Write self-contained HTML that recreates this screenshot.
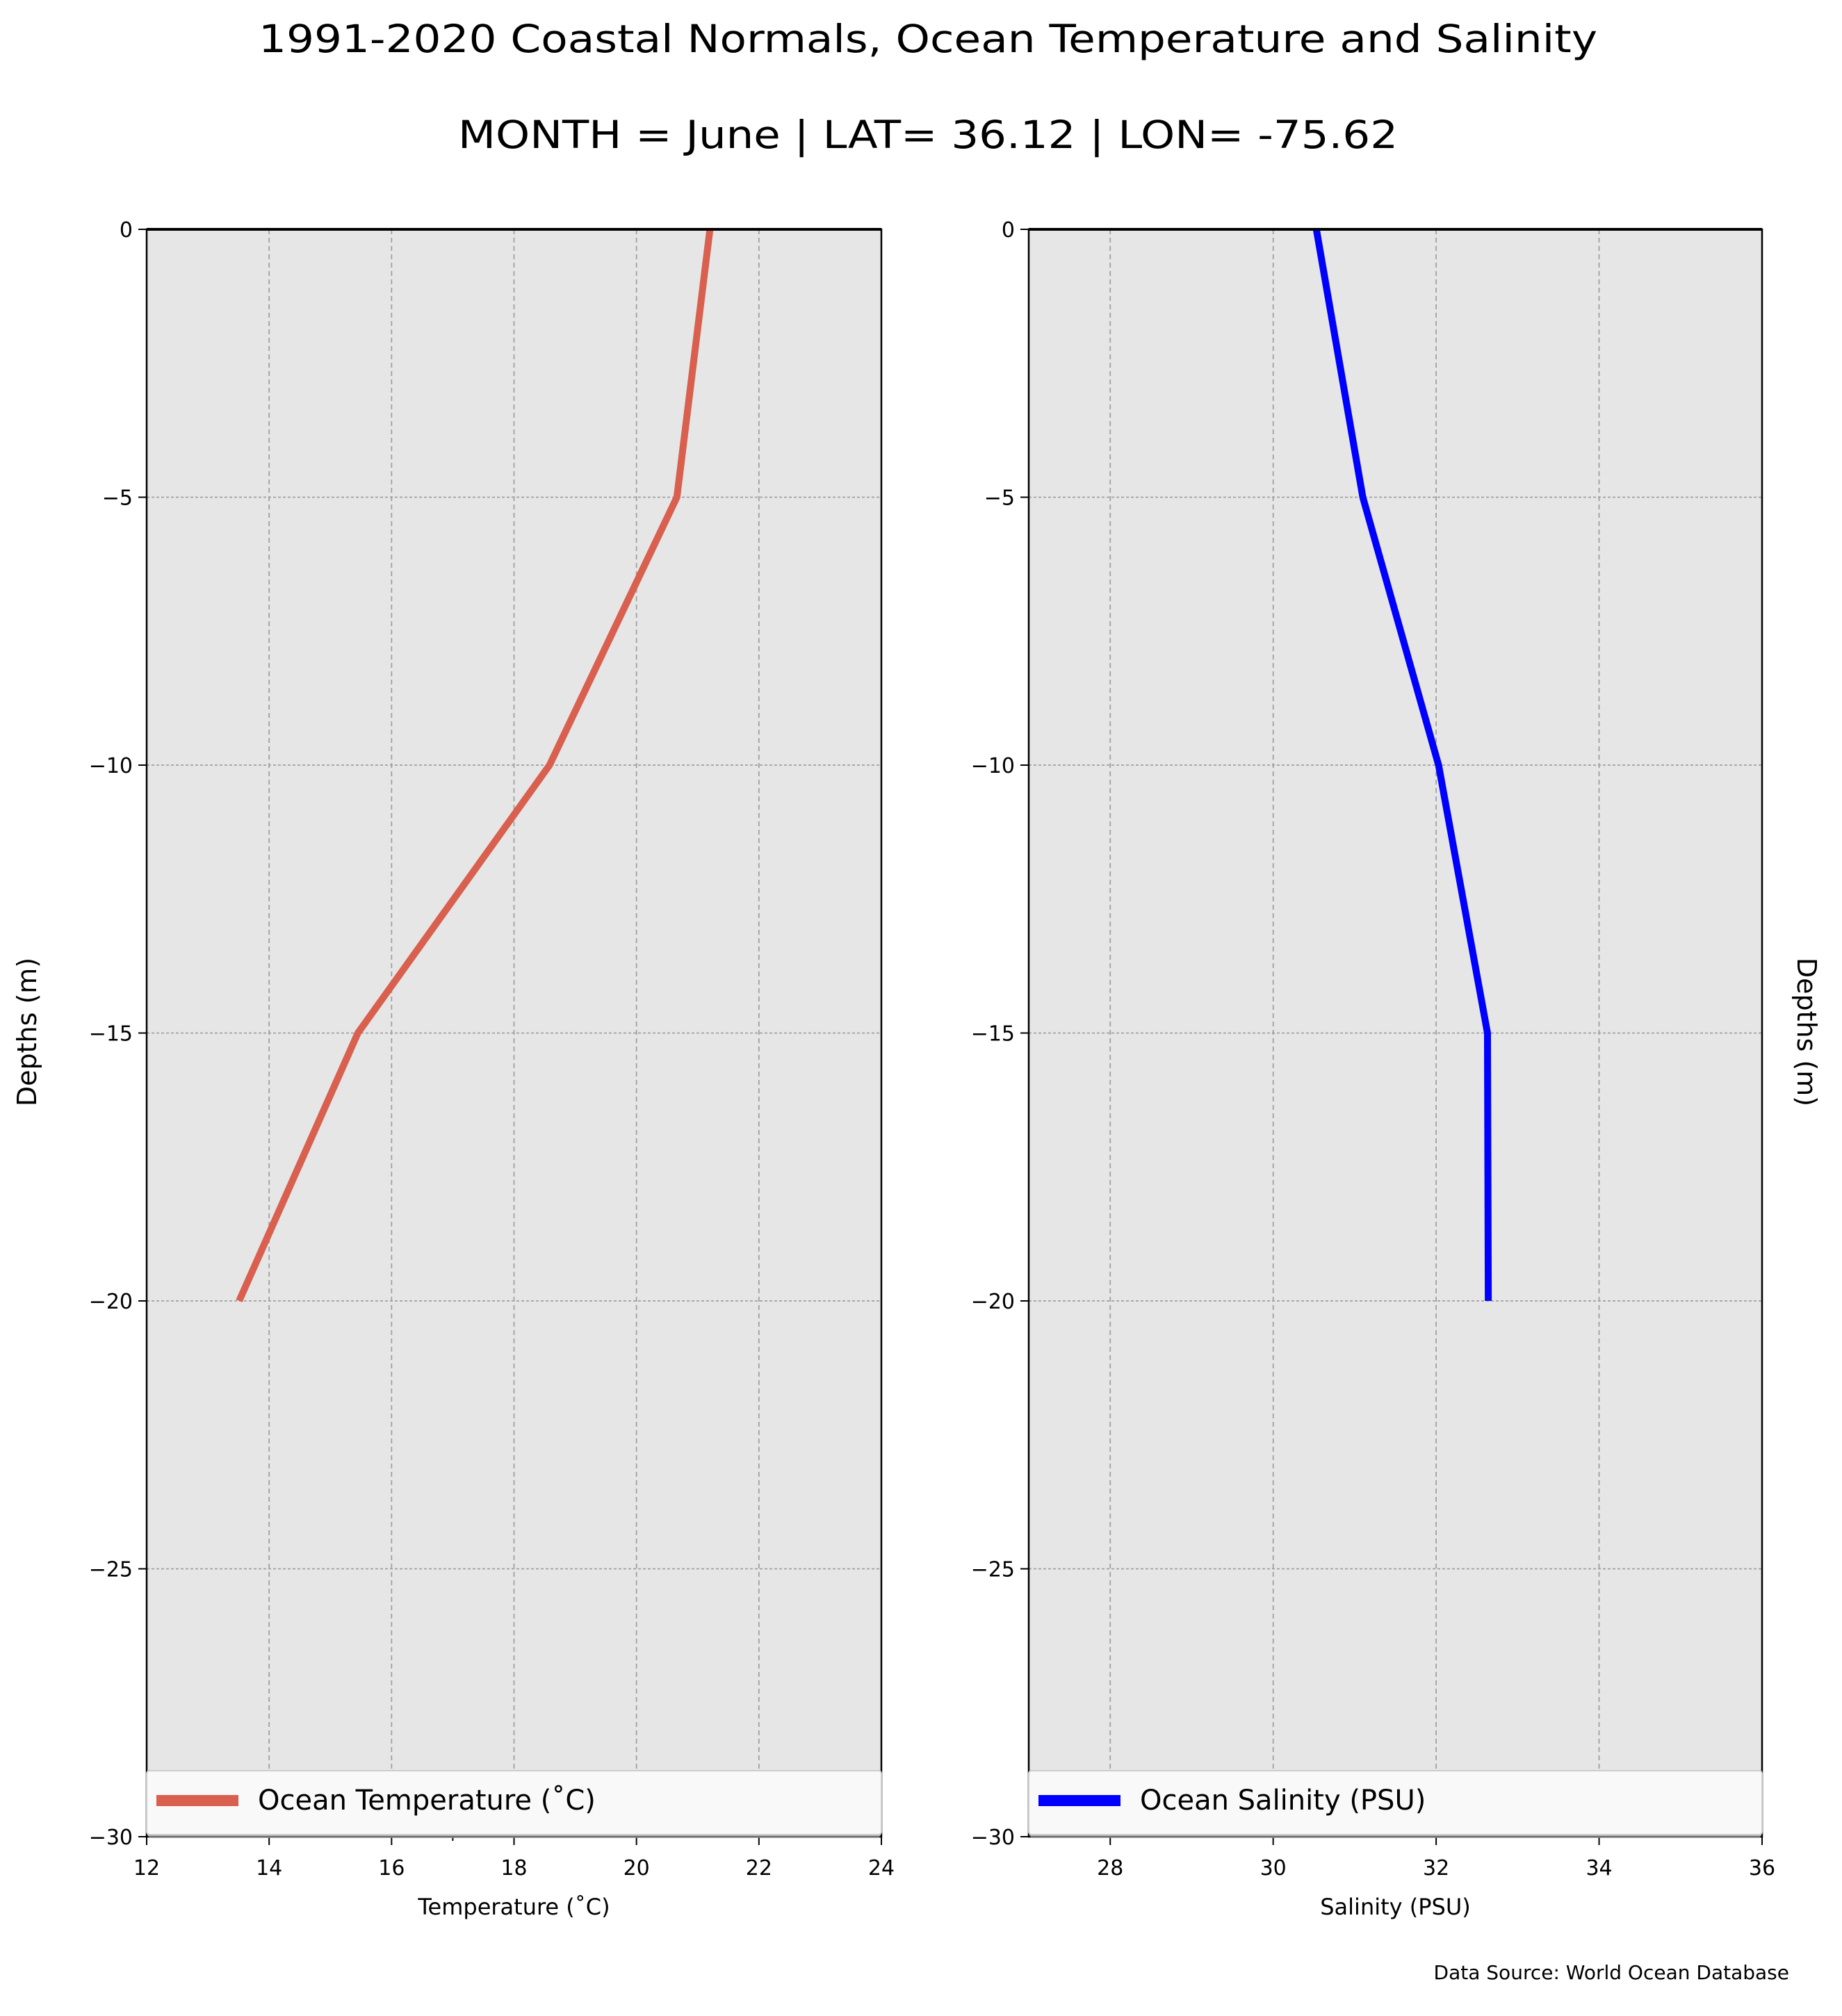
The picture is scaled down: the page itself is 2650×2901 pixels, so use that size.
<!DOCTYPE html>
<html><head><meta charset="utf-8"><style>
html,body{margin:0;padding:0;background:#fff;}
svg{display:block;font-family:"DejaVu Sans","Liberation Sans",sans-serif;}
</style></head><body>
<svg id="chart" width="2650" height="2901" viewBox="0 0 2650 2901" xmlns="http://www.w3.org/2000/svg">
<text x="1335" y="75" font-size="55" text-anchor="middle" textLength="1926" lengthAdjust="spacingAndGlyphs">1991-2020 Coastal Normals, Ocean Temperature and Salinity</text>
<text x="1335" y="213" font-size="55" text-anchor="middle" textLength="1352" lengthAdjust="spacingAndGlyphs">MONTH = June | LAT= 36.12 | LON= -75.62</text>
<g id="p1"></g>
<g id="p2"></g>
<text x="52" y="1485" font-size="38" text-anchor="middle" transform="rotate(-90 52 1485)">Depths (m)</text>
<text x="2586" y="1485" font-size="38" text-anchor="middle" transform="rotate(90 2586 1485)">Depths (m)</text>
<text x="2574" y="2848" font-size="28" text-anchor="end">Data Source: World Ocean Database</text>
</svg>
<script>
const depths = [0, -5, -10, -15, -20];
const temperature = [21.2, 20.66, 18.58, 15.45, 13.51];
const salinity = [30.53, 31.1, 32.03, 32.63, 32.64];
const yTicks = [0, -5, -10, -15, -20, -25, -30];
const tempTicks = [12, 14, 16, 18, 20, 22, 24];
const salTicks = [28, 30, 32, 34, 36];

const NS = 'http://www.w3.org/2000/svg';
function mk(parent, tag, attrs, text) {
  const e = document.createElementNS(NS, tag);
  for (const k in attrs) e.setAttribute(k, attrs[k]);
  if (text !== undefined) e.textContent = text;
  parent.appendChild(e);
  return e;
}
const TOP = 330, BOT = 2643;
function yScale(d) { return TOP + (0 - d) / 30 * (BOT - TOP); }

function panel(g, x0, x1, xmin, xmax, xTicks, vals, color, xlabel, legendText, minor, key) {
  const xs = v => x0 + (v - xmin) / (xmax - xmin) * (x1 - x0);
  const bg = mk(g, 'rect', {x: x0, y: TOP, width: x1 - x0, height: BOT - TOP, fill: '#e6e6e6'});
  
  
  xTicks.forEach(t => {
    const X = xs(t);
    if (t > xmin && t < xmax) {
      const gl = mk(g, 'line', {x1: X, x2: X, y1: TOP, y2: BOT, stroke: '#a0a0a0', 'stroke-width': 1.8, 'stroke-dasharray': '7,5'});
      
      
    }
    mk(g, 'line', {x1: X, x2: X, y1: BOT, y2: BOT + 12, stroke: '#000', 'stroke-width': 2});
    const tl = mk(g, 'text', {x: X, y: BOT + 55, 'font-size': 30, 'text-anchor': 'middle'}, String(t));
    
    
  });
  if (minor !== null) mk(g, 'line', {x1: xs(minor), x2: xs(minor), y1: BOT, y2: BOT + 6, stroke: '#000', 'stroke-width': 2});
  yTicks.forEach(t => {
    const Y = yScale(t);
    if (t < 0 && t > -30) {
      const gl = mk(g, 'line', {x1: x0, x2: x1, y1: Y, y2: Y, stroke: '#a0a0a0', 'stroke-width': 1.8, 'stroke-dasharray': '4,3'});
      
      
    }
    mk(g, 'line', {x1: x0 - 12, x2: x0, y1: Y, y2: Y, stroke: '#000', 'stroke-width': 2});
    const tl = mk(g, 'text', {x: x0 - 20, y: Y + 11, 'font-size': 30, 'text-anchor': 'end'}, t === 0 ? '0' : '\u2212' + Math.abs(t));
    
    
  });
  const pts = vals.map((v, i) => xs(v) + ',' + yScale(depths[i])).join(' ');
  const line = mk(g, 'polyline', {points: pts, fill: 'none', stroke: color, 'stroke-width': 10});
  
  
  const fr = mk(g, 'rect', {x: x0, y: TOP, width: x1 - x0, height: BOT - TOP, fill: 'none', stroke: '#000', 'stroke-width': 2.5});
  
  
  mk(g, 'line', {x1: x0, x2: x1, y1: TOP, y2: TOP, stroke: '#000', 'stroke-width': 4});
  // legend
  const lg = mk(g, 'g', {});
  
  
  mk(lg, 'rect', {x: x0 + 2, y: 2553, width: x1 - x0 - 4, height: 92, rx: 4, fill: '#b0b0b0', opacity: 0.6});
  mk(lg, 'rect', {x: x0, y: 2548, width: x1 - x0, height: 92, rx: 4, fill: '#f9f9f9', stroke: '#cccccc', 'stroke-width': 2});
  mk(lg, 'rect', {x: x0 + 14, y: 2583, width: 118, height: 16, fill: color});
  const lt = mk(lg, 'text', {x: x0 + 160, y: 2604, 'font-size': 40}, legendText);
  
  
  const xl = mk(g, 'text', {x: (x0 + x1) / 2, y: BOT + 112, 'font-size': 32, 'text-anchor': 'middle'}, xlabel);
  
  
}
panel(document.getElementById('p1'), 211, 1268, 12, 24, tempTicks, temperature, '#d95f4e', 'Temperature (\u02DAC)', 'Ocean Temperature (\u02DAC)', 17, 'temperature');
panel(document.getElementById('p2'), 1480, 2535, 27, 36, salTicks, salinity, '#0000ff', 'Salinity (PSU)', 'Ocean Salinity (PSU)', null, 'salinity');
</script>
</body></html>
